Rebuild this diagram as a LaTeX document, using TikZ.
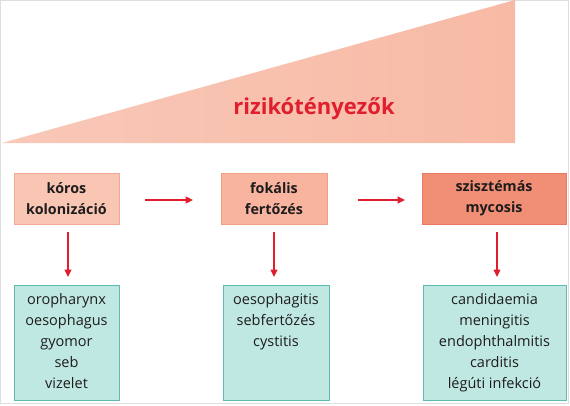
\documentclass[tikz,border=0pt]{standalone}
\usepackage{fontspec}
\setmainfont{Open Sans}
\usetikzlibrary{arrows.meta}
\definecolor{tri}{RGB}{247,186,165}
\definecolor{trilight}{RGB}{249,200,184}
\definecolor{boxa}{RGB}{250,198,180}
\definecolor{boxaline}{RGB}{242,170,148}
\definecolor{boxb}{RGB}{248,180,158}
\definecolor{boxbline}{RGB}{240,160,135}
\definecolor{boxc}{RGB}{241,143,118}
\definecolor{boxcline}{RGB}{232,120,95}
\definecolor{tealfill}{RGB}{192,232,226}
\definecolor{tealline}{RGB}{95,186,176}
\definecolor{arrowred}{RGB}{224,30,45}
\definecolor{txt}{RGB}{30,28,28}
\definecolor{frame}{RGB}{222,222,222}
\tikzset{
  topbox/.style={draw, line width=0.8pt, inner sep=0pt, font=\fontsize{14.3}{21}\selectfont\bfseries, text=txt, align=center},
  botbox/.style={draw=tealline, fill=tealfill, line width=0.8pt, inner sep=0pt},
  bottext/.style={font=\fontsize{14.5}{21}\selectfont, text=txt, align=center, anchor=north},
  redarrow/.style={draw=arrowred, line width=1.5pt, -{Triangle[length=7.5pt,width=7pt]}}
}
\begin{document}
\begin{tikzpicture}[x=1pt,y=-1pt]
\useasboundingbox (0,0) rectangle (570,405);
\draw[frame, line width=0.8pt] (0.5,0.5) rectangle (568,403.5);
\shade[left color=trilight, right color=tri] (2,143) -- (515,0) -- (515,143) -- cycle;
\node[text=arrowred, font=\fontsize{22}{24}\selectfont\bfseries] (title) at (314,109) {rizikótényezők};

\node[topbox, fill=boxa, draw=boxaline, minimum width=105pt, minimum height=51pt] (b1) at (66.5,198.5) {kóros\\kolonizáció};
\node[topbox, fill=boxb, draw=boxbline, minimum width=106pt, minimum height=51pt] (b2) at (274,198.5) {fokális\\fertőzés};
\node[topbox, fill=boxc, draw=boxcline, minimum width=144pt, minimum height=51pt] (b3) at (494,198.5) {szisztémás\\mycosis};

\node[botbox, minimum width=105pt, minimum height=115pt] (c1) at (66.5,342.5) {};
\node[botbox, minimum width=106pt, minimum height=115pt] (c2) at (276,342.5) {};
\node[botbox, minimum width=143pt, minimum height=115pt] (c3) at (494.5,342.5) {};

\node[bottext] (t1) at ([yshift=-5pt]c1.north) {oropharynx\\oesophagus\\gyomor\\seb\\vizelet};
\node[bottext] (t2) at ([yshift=-5pt]c2.north) {oesophagitis\\sebfertőzés\\cystitis};
\node[bottext] (t3) at ([yshift=-5pt]c3.north) {candidaemia\\meningitis\\endophthalmitis\\carditis\\légúti infekció};

\coordinate (h1s) at (145,200); \coordinate (h1e) at (193,200);
\coordinate (h2s) at (358,200); \coordinate (h2e) at (405,200);
\draw[redarrow] (h1s) -- (h1e);
\draw[redarrow] (h2s) -- (h2e);
\coordinate (v1s) at (68,232); \coordinate (v1e) at (68,277);
\coordinate (v2s) at (274,232); \coordinate (v2e) at (274,277);
\coordinate (v3s) at (497,232); \coordinate (v3e) at (497,277);
\draw[redarrow] (v1s) -- (v1e);
\draw[redarrow] (v2s) -- (v2e);
\draw[redarrow] (v3s) -- (v3e);
\end{tikzpicture}
\end{document}
